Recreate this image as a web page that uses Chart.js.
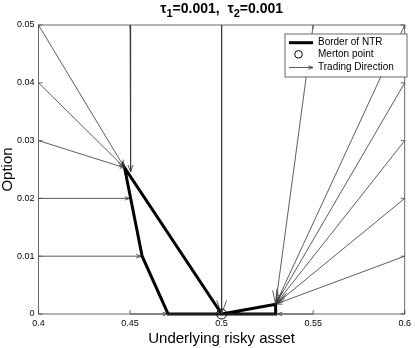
<!DOCTYPE html>
<html>
<head>
<meta charset="utf-8">
<script src="https://cdn.jsdelivr.net/npm/chart.js@4/dist/chart.umd.min.js"></script>
<style>
  html, body { margin: 0; padding: 0; background: #fff; }
</style>
</head>
<body>
<canvas id="ntr" width="415" height="348"></canvas>
<script>
// axis ticks
var xTicks = [0.4, 0.45, 0.5, 0.55, 0.6];
var yTicks = [0, 0.01, 0.02, 0.03, 0.04, 0.05];

// border of the no-trade region (walked as one path)
var borderX = [0.5, 0.447, 0.4566, 0.4708, 0.5295, 0.5295, 0.5];
var borderY = [0, 0.0253, 0.0100, 0, 0, 0.0017, 0];

// merton point
var mertonX = [0.5];
var mertonY = [0];

// trading direction arrows: start -> end
var fromX = [0.4, 0.4, 0.4, 0.45, 0.4, 0.4, 0.45, 0.5, 0.55, 0.6, 0.6, 0.6, 0.6, 0.6, 0.55];
var fromY = [0.05, 0.04, 0.03, 0.05, 0.02, 0.01, 0, 0.05, 0.05, 0.05, 0.04, 0.03, 0.02, 0.01, 0];
var toX = [0.447, 0.447, 0.447, 0.4503, 0.4497, 0.456, 0.4705, 0.5, 0.5295, 0.5295, 0.5295, 0.5295, 0.5295, 0.5295, 0.5305];
var toY = [0.0253, 0.0253, 0.0253, 0.0246, 0.02, 0.01, 0, 0, 0.0017, 0.0017, 0.0017, 0.0017, 0.0017, 0.0017, 0];

var FONT = "'Liberation Sans', Arial, Helvetica, sans-serif";

function pts(xs, ys) {
  return xs.map(function (x, i) { return { x: x, y: ys[i] }; });
}

var datasets = [];
datasets.push({
  label: 'Merton point',
  data: pts(mertonX, mertonY),
  pointStyle: 'circle',
  pointRadius: 5,
  borderColor: '#000',
  borderWidth: 1,
  backgroundColor: 'rgba(0,0,0,0)',
  showLine: false,
  clip: false
});
datasets.push({
  label: 'Border of NTR',
  data: pts(borderX, borderY),
  showLine: true,
  borderColor: '#000',
  borderWidth: 3,
  pointRadius: 0,
  borderJoinStyle: 'miter',
  clip: false
});
for (var i = 0; i < fromX.length; i++) {
  datasets.push({
    label: 'Trading Direction',
    arrow: true,
    data: [{ x: fromX[i], y: fromY[i] }, { x: toX[i], y: toY[i] }],
    showLine: true,
    borderColor: '#333',
    borderWidth: 0.8,
    pointRadius: 0,
    clip: false
  });
}

function head(ctx, x0, y0, x1, y1, len) {
  var a = Math.atan2(y1 - y0, x1 - x0);
  var s = 0.35;
  ctx.beginPath();
  ctx.moveTo(x1 - len * Math.cos(a - s), y1 - len * Math.sin(a - s));
  ctx.lineTo(x1, y1);
  ctx.lineTo(x1 - len * Math.cos(a + s), y1 - len * Math.sin(a + s));
  ctx.stroke();
}

var matlabLook = {
  id: 'matlabLook',
  beforeDraw: function (chart) {
    var ctx = chart.ctx;
    ctx.save();
    ctx.fillStyle = '#fff';
    ctx.fillRect(0, 0, chart.width, chart.height);
    ctx.restore();
  },
  afterDatasetsDraw: function (chart) {
    var ctx = chart.ctx, a = chart.chartArea;
    var xs = chart.scales.x, ys = chart.scales.y;
    ctx.save();

    // arrow heads
    ctx.strokeStyle = '#333';
    ctx.lineWidth = 0.8;
    chart.data.datasets.forEach(function (ds, k) {
      if (!ds.arrow) return;
      var m = chart.getDatasetMeta(k).data;
      var p0 = m[0], p1 = m[1];
      var L = Math.hypot(p1.x - p0.x, p1.y - p0.y);
      head(ctx, p0.x, p0.y, p1.x, p1.y, Math.max(5, L * 0.05));
    });

    // box + inward ticks
    ctx.strokeStyle = '#444';
    ctx.lineWidth = 0.8;
    ctx.strokeRect(a.left, a.top, a.right - a.left, a.bottom - a.top);
    ctx.beginPath();
    xTicks.forEach(function (v) {
      var px = xs.getPixelForValue(v);
      ctx.moveTo(px, a.bottom); ctx.lineTo(px, a.bottom - 4);
      ctx.moveTo(px, a.top); ctx.lineTo(px, a.top + 4);
    });
    yTicks.forEach(function (v) {
      var py = ys.getPixelForValue(v);
      ctx.moveTo(a.left, py); ctx.lineTo(a.left + 4, py);
      ctx.moveTo(a.right, py); ctx.lineTo(a.right - 4, py);
    });
    ctx.stroke();

    // legend
    var bx = 285, by = 34, bw = 122, bh = 43;
    ctx.fillStyle = '#fff';
    ctx.fillRect(bx, by, bw, bh);
    ctx.strokeStyle = '#444';
    ctx.lineWidth = 0.8;
    ctx.strokeRect(bx, by, bw, bh);
    var rows = [42.7, 54.3, 67.5];
    ctx.strokeStyle = '#000';
    ctx.lineWidth = 3;
    ctx.beginPath(); ctx.moveTo(289, rows[0]); ctx.lineTo(313, rows[0]); ctx.stroke();
    ctx.lineWidth = 1;
    ctx.beginPath(); ctx.arc(298.5, rows[1], 3.8, 0, Math.PI * 2); ctx.stroke();
    ctx.strokeStyle = '#333';
    ctx.lineWidth = 0.8;
    ctx.beginPath(); ctx.moveTo(289, rows[2]); ctx.lineTo(313, rows[2]); ctx.stroke();
    head(ctx, 289, rows[2], 313, rows[2], 5);
    ctx.fillStyle = '#000';
    ctx.font = '10px ' + FONT;
    ctx.textBaseline = 'middle';
    ctx.textAlign = 'left';
    ctx.fillText('Border of NTR', 318, rows[0]);
    ctx.fillText('Merton point', 318, rows[1]);
    ctx.fillText('Trading Direction', 318, rows[2]);

    // title with subscripts
    var parts = [
      { t: '\u03C4', s: false }, { t: '1', s: true }, { t: '=0.001,  ', s: false },
      { t: '\u03C4', s: false }, { t: '2', s: true }, { t: '=0.001', s: false }
    ];
    var big = 'bold 14px ' + FONT, small = 'bold 11px ' + FONT;
    var w = 0;
    parts.forEach(function (p) { ctx.font = p.s ? small : big; w += ctx.measureText(p.t).width; });
    var x = (a.left + a.right) / 2 - w / 2, base = 13;
    ctx.textBaseline = 'alphabetic';
    parts.forEach(function (p) {
      ctx.font = p.s ? small : big;
      ctx.fillText(p.t, x, p.s ? base + 4 : base);
      x += ctx.measureText(p.t).width;
    });
    ctx.restore();
  }
};

new Chart(document.getElementById('ntr'), {
  type: 'scatter',
  data: { datasets: datasets },
  options: {
    responsive: false,
    animation: false,
    devicePixelRatio: 1,
    layout: { padding: { top: 25, right: 7, left: 0, bottom: 0 } },
    plugins: { legend: { display: false }, tooltip: { enabled: false } },
    scales: {
      x: {
        type: 'linear', min: 0.4, max: 0.6,
        afterBuildTicks: function (s) { s.ticks = xTicks.map(function (v) { return { value: v }; }); },
        afterFit: function (s) { s.height = 34; },
        grid: { display: false, drawTicks: false },
        border: { display: false },
        ticks: {
          autoSkip: false, maxRotation: 0, padding: 4, color: '#000',
          font: { size: 9, family: FONT },
          callback: function (v) { return String(v); }
        },
        title: {
          display: true, text: 'Underlying risky asset', color: '#000',
          font: { size: 15, family: FONT, lineHeight: 1 }, padding: { top: 0, bottom: 2 }
        }
      },
      y: {
        type: 'linear', min: 0, max: 0.05,
        afterBuildTicks: function (s) { s.ticks = yTicks.map(function (v) { return { value: v }; }); },
        afterFit: function (s) { s.width = 38.5; },
        grid: { display: false, drawTicks: false },
        border: { display: false },
        ticks: {
          autoSkip: false, padding: 4, color: '#000',
          font: { size: 9, family: FONT },
          callback: function (v) { return String(v); }
        },
        title: {
          display: true, text: 'Option', color: '#000',
          font: { size: 15, family: FONT, lineHeight: 1 }, padding: 0
        }
      }
    }
  },
  plugins: [matlabLook]
});
</script>
</body>
</html>
